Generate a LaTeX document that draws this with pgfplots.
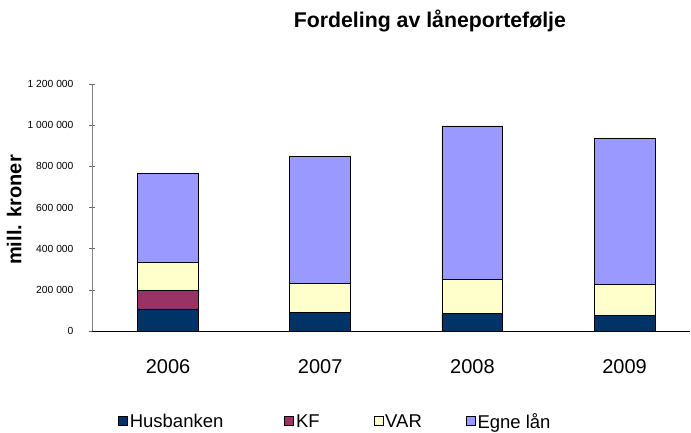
\documentclass[border=0pt]{standalone}
\usepackage{fontspec}
\setmainfont{Liberation Sans}
\usepackage{pgfplots}
\pgfplotsset{compat=1.18}

\definecolor{husbanken}{HTML}{003366}
\definecolor{kf}{HTML}{993366}
\definecolor{var}{HTML}{FFFFCC}
\definecolor{egne}{HTML}{9999FF}

\begin{document}
\begin{tikzpicture}
\useasboundingbox (-92pt,-101pt) rectangle (599pt,331pt);
\begin{axis}[
    at={(0,0)}, anchor=south west,
    scale only axis,
    width=598pt, height=247pt,
    ybar stacked,
    bar width=0.4,
    xmin=-0.5, xmax=3.43,
    ymin=0, ymax=1200000,
    scaled y ticks=false,
    ytick={0,200000,400000,600000,800000,1000000,1200000},
    yticklabels={0,200 000,400 000,600 000,800 000,1 000 000,1 200 000},
    yticklabel style={font=\fontsize{10.3}{12}\selectfont, xshift=-12pt},
    xtick={0,1,2,3},
    xticklabels={2006,2007,2008,2009},
    x tick style={draw=none},
    xticklabel style={font=\fontsize{20}{22}\selectfont, yshift=-22pt},
    extra x ticks={0.5,1.5,2.5},
    extra x tick labels={},
    extra x tick style={major tick length=7pt, tick align=outside,
        tick style={draw=black!70, line width=0.6pt}},
    axis lines*=left,
    y axis line style={draw=black!50, line width=0.8pt},
    x axis line style={draw=black, line width=0.8pt},
    y tick style={draw=black!60, line width=0.6pt},
    major tick length=6pt,
    tick align=center,
    title={\bfseries Fordeling av låneportefølje},
    title style={at={(axis description cs:0.565,1)}, anchor=center,
        yshift=57pt, font=\fontsize{21.3}{23}\selectfont},
    ylabel={\bfseries mill. kroner},
    ylabel style={at={(axis description cs:-0.130,0.49)}, anchor=center,
        rotate=0, font=\fontsize{20}{22}\selectfont},
    legend columns=-1,
    legend style={at={(axis description cs:0.407,-0.367)}, anchor=center,
        draw=none, fill=none, font=\fontsize{18.5}{20}\selectfont,
        /tikz/column 2/.style={column sep=59pt},
        /tikz/column 4/.style={column sep=52pt},
        /tikz/column 6/.style={column sep=42pt}},
    legend image code/.code={\draw[#1, draw=black, line width=0.6pt] (0pt,-4pt) rectangle (9pt,5pt);},
    every axis plot/.append style={draw=black, line width=0.8pt},
]
\addplot[fill=husbanken] coordinates {(0,107000) (1,89000) (2,87000) (3,76000)};
\addlegendentry{Husbanken}
\addplot[fill=kf] coordinates {(0,91000) (1,0) (2,0) (3,0)};
\addlegendentry{KF}
\addplot[fill=var] coordinates {(0,137000) (1,141000) (2,162000) (3,151000)};
\addlegendentry{VAR}
\addplot[fill=egne] coordinates {(0,432000) (1,619000) (2,747000) (3,707000)};
\addlegendentry{Egne lån}
\end{axis}
\end{tikzpicture}
\end{document}
